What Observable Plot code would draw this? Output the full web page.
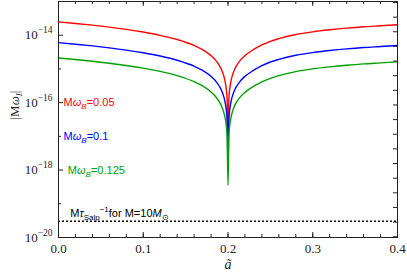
<!DOCTYPE html>
<html><head><meta charset="utf-8">
<script src="https://cdn.jsdelivr.net/npm/d3@7"></script>
<script src="https://cdn.jsdelivr.net/npm/@observablehq/plot@0.6"></script>
<style>html,body{margin:0;padding:0;background:#fff;}</style>
</head><body><div id="chart"></div>
<script>
// ã values sampled along the curves
const aVals = [0,0.02,0.04,0.06,0.08,0.10,0.12,0.14,0.16,0.17,0.18,0.185,0.19,0.193,0.196,0.198,0.199,0.2,0.201,0.202,0.204,0.207,0.21,0.215,0.22,0.23,0.24,0.25,0.26,0.28,0.30,0.32,0.34,0.36,0.38,0.40];
// log10 |M ω_I| for each series
const redExp = [-13.605,-13.651,-13.702,-13.760,-13.827,-13.906,-14.003,-14.128,-14.304,-14.429,-14.605,-14.730,-14.906,-15.061,-15.304,-15.605,-15.906,-17.37,-15.906,-15.605,-15.304,-15.061,-14.906,-14.730,-14.605,-14.43,-14.29,-14.18,-14.10,-13.98,-13.90,-13.84,-13.79,-13.75,-13.72,-13.69];
const blueExp = [-14.220,-14.266,-14.317,-14.375,-14.442,-14.521,-14.618,-14.743,-14.919,-15.044,-15.220,-15.345,-15.521,-15.676,-15.919,-16.220,-16.521,-17.98,-16.521,-16.220,-15.919,-15.676,-15.521,-15.345,-15.220,-15.045,-14.905,-14.795,-14.715,-14.595,-14.515,-14.455,-14.405,-14.365,-14.335,-14.305];
const greenExp = [-14.675,-14.721,-14.772,-14.830,-14.897,-14.976,-15.073,-15.198,-15.379,-15.504,-15.685,-15.810,-15.986,-16.141,-16.384,-16.685,-16.986,-18.45,-16.986,-16.685,-16.384,-16.141,-15.986,-15.815,-15.695,-15.52,-15.385,-15.28,-15.20,-15.08,-15.00,-14.94,-14.89,-14.85,-14.82,-14.79];
const salpExp = -19.52; // M τ_Salp^-1 for M = 10 M_sun
const seriesNames = ["Mω_B=0.05","Mω_B=0.1","Mω_B=0.125"];
const salpLabel = "Mτ_Salp^-1for M=10M_⊙";
// ticks
const xMajor = [0,0.1,0.2,0.3,0.4];
const xMinor = [0,0.02,0.04,0.06,0.08,0.1,0.12,0.14,0.16,0.18,0.2,0.22,0.24,0.26,0.28,0.3,0.32,0.34,0.36,0.38,0.4];
const yMajor = [-20,-18,-16,-14];
const yMinor = [-19,-17,-15,-13];
const rightLnTicks = [-30,-31,-32,-33,-34,-35,-36,-37,-38,-39,-40,-41,-42,-43,-44,-45,-46];

const rows = (exps) => aVals.map((a, i) => ({a, e: exps[i]}));
const W = 407, H = 279, mL = 58, mR = 10, mT = 1, mB = 42;
const fW = W - mL - mR, fH = H - mT - mB;
const ink = "#222";
const serif = "'Liberation Serif', 'Times New Roman', serif";
const sans = "'Liberation Sans', Arial, sans-serif";
const rightTicks = rightLnTicks.map(n => n / Math.LN10);

const chart = Plot.plot({
  width: W, height: H,
  marginLeft: mL, marginRight: mR, marginTop: mT, marginBottom: mB,
  x: {domain: [0, 0.4]},
  y: {domain: [-20, -13]},
  style: {background: "#fff", color: ink},
  marks: [
    Plot.lineY(rows(redExp), {x: "a", y: "e", stroke: "#ff0000", strokeWidth: 1.4, curve: "monotone-x"}),
    Plot.lineY(rows(blueExp), {x: "a", y: "e", stroke: "#0000ff", strokeWidth: 1.4, curve: "monotone-x"}),
    Plot.lineY(rows(greenExp), {x: "a", y: "e", stroke: "#00a000", strokeWidth: 1.4, curve: "monotone-x"}),
    Plot.ruleY([salpExp], {stroke: "#000", strokeWidth: 1.5, strokeDasharray: "2,2"}),
    Plot.frame({stroke: ink, strokeWidth: 1}),
    // inward ticks
    Plot.tickX(xMinor, {x: d => d, insetTop: fH - 3, stroke: ink}),
    Plot.tickX(xMajor, {x: d => d, insetTop: fH - 5, stroke: ink}),
    Plot.tickX(xMinor, {x: d => d, insetBottom: fH - 3, stroke: ink}),
    Plot.tickX(xMajor, {x: d => d, insetBottom: fH - 5, stroke: ink}),
    Plot.tickY(yMajor, {y: d => d, insetRight: fW - 5, stroke: ink}),
    Plot.tickY(yMinor, {y: d => d, insetRight: fW - 3, stroke: ink}),
    Plot.tickY(rightTicks, {y: d => d, insetLeft: fW - 4, stroke: ink}),
    Plot.axisX({ticks: xMajor, tickSize: 0, tickPadding: 6, tickFormat: d => d.toFixed(1), fontSize: 13, label: null}),
    Plot.axisY({ticks: yMajor, tickSize: 0, tickPadding: 6, tickFormat: d => "YT" + d, fontSize: 13, label: null}),
    // series labels
    Plot.text([seriesNames[0]], {x: 0.006, y: -16, text: d => d, fill: "#ff0000", textAnchor: "start", fontSize: 11}),
    Plot.text([seriesNames[1]], {x: 0.006, y: -17, text: d => d, fill: "#0000ff", textAnchor: "start", fontSize: 11}),
    Plot.text([seriesNames[2]], {x: 0.011, y: -18, text: d => d, fill: "#00a000", textAnchor: "start", fontSize: 11}),
    Plot.text([salpLabel], {x: 0.014, y: -19.28, text: d => d, fill: "#000", textAnchor: "start", fontSize: 11}),
    // axis titles
    Plot.text(["ã"], {frameAnchor: "bottom", dy: 31, text: d => d, fontStyle: "italic", fontSize: 14, fill: ink}),
    Plot.text(["|Mω_I|"], {frameAnchor: "left", dx: -44, rotate: -90, text: d => d, fontSize: 13, fill: ink})
  ]
});
document.getElementById("chart").appendChild(chart);

// rich text (sub/superscripts) and fonts
const rich = {
  "|Mω_I|": '|M<tspan font-style="italic">ω</tspan><tspan font-style="italic" font-size="9" dy="3">I</tspan><tspan dy="-3">|</tspan>',
  [salpLabel]: 'M<tspan font-style="italic">τ</tspan><tspan font-size="8" dy="3">Salp</tspan><tspan font-size="8" dy="-8">−1</tspan><tspan dy="5">for M=10</tspan><tspan font-style="italic">M</tspan><tspan font-size="8" dy="3">⊙</tspan>'
};
const sansKeys = new Set([salpLabel, ...seriesNames]);
seriesNames.forEach(s => {
  const v = s.split("=")[1];
  rich[s] = 'M<tspan font-style="italic">ω</tspan><tspan font-style="italic" font-size="8" dy="3">B</tspan><tspan dy="-3">=' + v + '</tspan>';
});
d3.select(chart).selectAll("text").each(function() {
  const t = this.textContent;
  this.style.fontFamily = sansKeys.has(t) ? sans : serif;
  if (rich[t]) this.innerHTML = rich[t];
  else if (t.startsWith("YT")) {
    const e = t.slice(2).replace("-", "−");
    this.innerHTML = '10<tspan dy="-6" font-size="9.5">' + e + '</tspan>';
  }
});
</script>
</body></html>
